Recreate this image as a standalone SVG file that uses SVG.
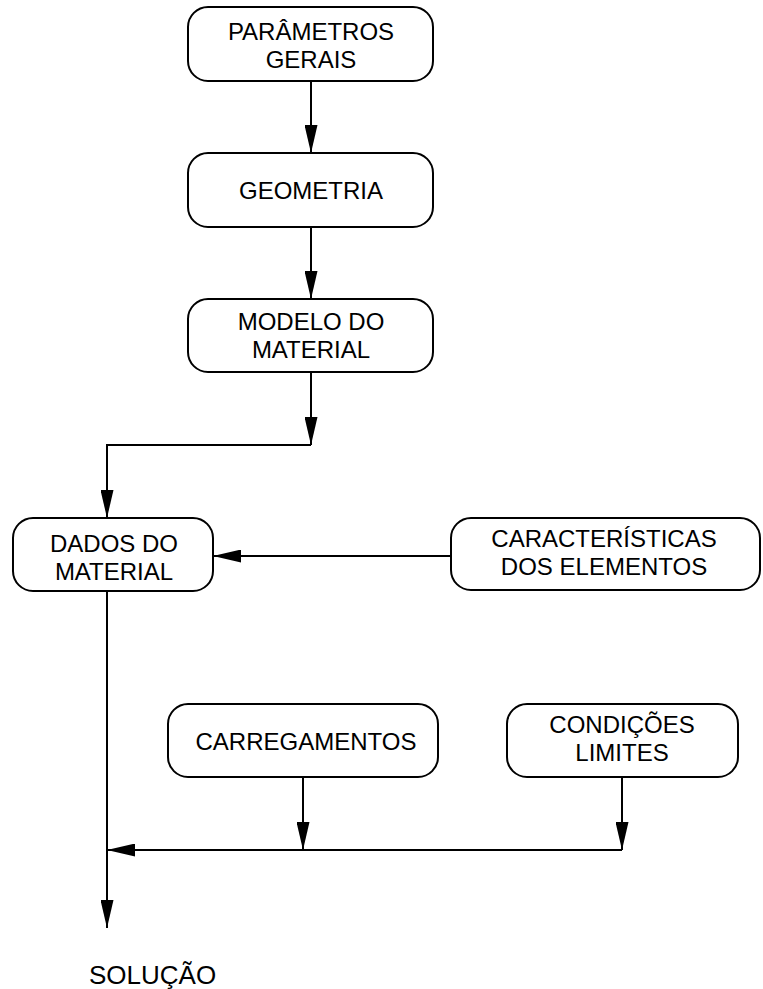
<svg xmlns="http://www.w3.org/2000/svg" width="763" height="989" viewBox="0 0 763 989">
<style>
.box{fill:#fff;stroke:#000;stroke-width:2}
.t{font-family:"Liberation Sans",Arial,sans-serif;font-size:24px;fill:#000;text-anchor:middle}
.c{fill:none;stroke:#000;stroke-width:2}
</style>
<defs>
<marker id="ah" markerUnits="userSpaceOnUse" markerWidth="28" markerHeight="13" refX="28" refY="6.5" orient="auto" viewBox="0 0 28 13">
<path d="M0,0 L28,6.5 L0,13 z" fill="#000"/>
</marker>
</defs>
<rect width="763" height="989" fill="#fff"/>
<g id="connectors">
<line class="c" x1="311" y1="81" x2="311" y2="153" marker-end="url(#ah)"/>
<line class="c" x1="311" y1="227" x2="311" y2="299" marker-end="url(#ah)"/>
<line class="c" x1="311" y1="372" x2="311" y2="445" marker-end="url(#ah)"/>
<polyline class="c" points="311,445 107,445 107,518" marker-end="url(#ah)"/>
<line class="c" x1="451" y1="556" x2="213" y2="556" marker-end="url(#ah)"/>
<line class="c" x1="107" y1="591" x2="107" y2="928" marker-end="url(#ah)"/>
<line class="c" x1="303" y1="777" x2="303" y2="850" marker-end="url(#ah)"/>
<line class="c" x1="622" y1="777" x2="622" y2="850" marker-end="url(#ah)"/>
<line class="c" x1="622" y1="850" x2="107" y2="850" marker-end="url(#ah)"/>
</g>
<g id="parametros">
<rect class="box" x="188" y="7" width="245" height="74" rx="20"/>
<text class="t" x="311" y="40">PARÂMETROS</text>
<text class="t" x="311" y="68">GERAIS</text>
</g>
<g id="geometria">
<rect class="box" x="188" y="153" width="245" height="74" rx="20"/>
<text class="t" x="311" y="199">GEOMETRIA</text>
</g>
<g id="modelo">
<rect class="box" x="188" y="299" width="245" height="73" rx="20"/>
<text class="t" x="311" y="330">MODELO DO</text>
<text class="t" x="311" y="358">MATERIAL</text>
</g>
<g id="dados">
<rect class="box" x="13" y="518" width="200" height="73" rx="20"/>
<text class="t" x="114" y="552">DADOS DO</text>
<text class="t" x="114" y="580">MATERIAL</text>
</g>
<g id="caracteristicas">
<rect class="box" x="451" y="518" width="309" height="72" rx="20"/>
<text class="t" x="604" y="547">CARACTERÍSTICAS</text>
<text class="t" x="604" y="575">DOS ELEMENTOS</text>
</g>
<g id="carregamentos">
<rect class="box" x="168" y="704" width="270" height="73" rx="20"/>
<text class="t" x="306" y="750">CARREGAMENTOS</text>
</g>
<g id="condicoes">
<rect class="box" x="507" y="704" width="231" height="73" rx="20"/>
<text class="t" x="622" y="733">CONDIÇÕES</text>
<text class="t" x="622" y="761">LIMITES</text>
</g>
<g id="solucao">
<text class="t" x="89" y="984" style="text-anchor:start;font-size:26px">SOLUÇÃO</text>
</g>
</svg>
